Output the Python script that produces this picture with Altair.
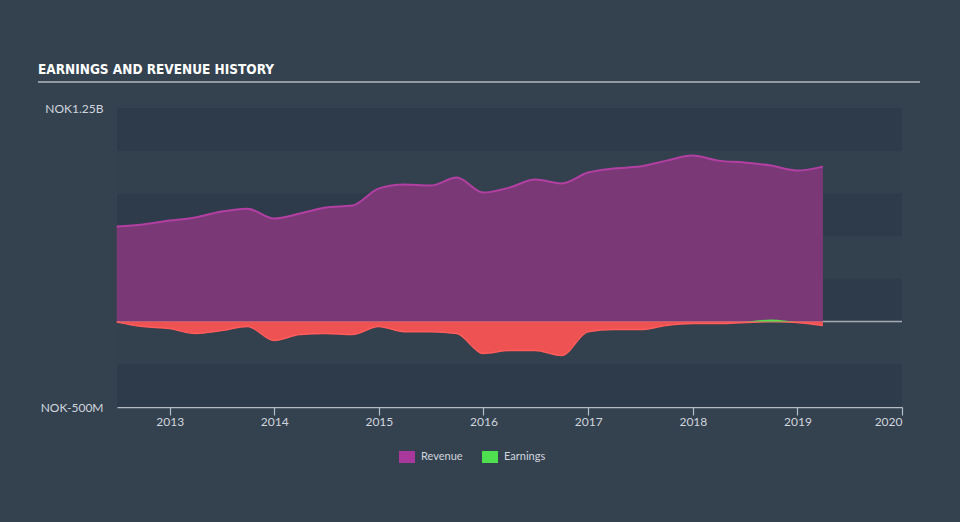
import altair as alt
import pandas as pd

dates = ["2012-06-30", "2012-09-30", "2012-12-31", "2013-03-31", "2013-06-30", "2013-09-30",
         "2013-12-31", "2014-03-31", "2014-06-30", "2014-09-30", "2014-12-31", "2015-03-31",
         "2015-06-30", "2015-09-30", "2015-12-31", "2016-03-31", "2016-06-30", "2016-09-30",
         "2016-12-31", "2017-03-31", "2017-06-30", "2017-09-30", "2017-12-31", "2018-03-31",
         "2018-06-30", "2018-09-30", "2018-12-31", "2019-03-31"]
revenue = [556, 568, 591, 609, 644, 661, 603, 632, 667, 679, 778, 802, 796, 843, 755, 784,
           831, 808, 872, 896, 907, 942, 972, 942, 931, 913, 884, 907]
earnings = [-2, -29, -41, -70, -53, -29, -111, -76, -70, -76, -29, -59, -59, -70, -187, -170,
            -170, -199, -59, -47, -47, -23, -12, -12, -6, 12, -6, -23]

band_lo = [1000, 500, 0, -500]
band_hi = [1250, 750, 250, -250]

series_names = ["Revenue", "Earnings"]
series_colors = ["#a8389c", "#4fe04f"]
title_text = "EARNINGS AND REVENUE HISTORY"

df = pd.DataFrame({
    "date": pd.to_datetime(dates),
    "revenue": [v * 1e6 for v in revenue],
    "earn_neg": [min(v, 0) * 1e6 for v in earnings],
    "earn_pos": [max(v, 0) * 1e6 for v in earnings],
})
bands = pd.DataFrame({"lo": [v * 1e6 for v in band_lo], "hi": [v * 1e6 for v in band_hi]})
legend_df = pd.DataFrame({"series": series_names, "date": pd.to_datetime([dates[0]] * 2), "v": [0, 0]})

W, H = 785, 299
x_scale = alt.Scale(domain=[pd.Timestamp("2012-07-01").isoformat(), pd.Timestamp("2020-01-01").isoformat()])
y_scale = alt.Scale(domain=[-500e6, 1250e6], nice=False)

x_axis = alt.Axis(
    title=None, format="%Y", values=[pd.Timestamp(f"{y}-01-01").isoformat() for y in range(2013, 2021)],
    domainColor="#b4bcc6", domainWidth=1.5, tickColor="#b4bcc6", tickSize=8, tickWidth=1.2,
    labelColor="#d0d6de", labelFontSize=12, labelFont="Lato", labelPadding=1, grid=False,
)
y_axis = alt.Axis(
    title=None, values=[-500e6, 1250e6], domain=False, ticks=False, grid=False,
    labelExpr="datum.value > 0 ? 'NOK1.25B' : 'NOK-500M'",
    labelColor="#d0d6de", labelFontSize=12, labelFont="Lato", labelPadding=14,
)

bands_layer = alt.Chart(bands).mark_rect(color="#2e3b4a").encode(
    x=alt.value(0), x2=alt.value(W),
    y=alt.Y("lo:Q", scale=y_scale, axis=y_axis), y2="hi:Q",
)

zero_rule = alt.Chart(pd.DataFrame({"z": [0]})).mark_rule(color="#a3abb5", strokeWidth=1.5).encode(
    x=alt.value(0), x2=alt.value(W), y=alt.Y("z:Q", scale=y_scale),
)

rev_layer = alt.Chart(df).mark_area(
    interpolate="monotone", color="#7b3877", opacity=1, line={"color": "#b23fa2", "strokeWidth": 2}
).encode(
    x=alt.X("date:T", scale=x_scale, axis=x_axis),
    y=alt.Y("revenue:Q", scale=y_scale),
    y2=alt.datum(0),
)

neg_layer = alt.Chart(df).mark_area(
    interpolate="monotone", color="#ef5252", opacity=1, line={"color": "#ff5c5c", "strokeWidth": 1.5}
).encode(
    x=alt.X("date:T", scale=x_scale),
    y=alt.Y("earn_neg:Q", scale=y_scale),
    y2=alt.datum(0),
)

pos_layer = alt.Chart(df).mark_area(
    interpolate="monotone", color="#4fe04f", opacity=1
).encode(
    x=alt.X("date:T", scale=x_scale),
    y=alt.Y("earn_pos:Q", scale=y_scale),
    y2=alt.datum(0),
)

legend_layer = alt.Chart(legend_df).mark_square(size=0, filled=True, opacity=1).encode(
    x=alt.X("date:T", scale=x_scale),
    y=alt.Y("v:Q", scale=y_scale),
    color=alt.Color(
        "series:N",
        scale=alt.Scale(domain=series_names, range=series_colors),
        legend=alt.Legend(
            title=None, orient="none", legendX=282, legendY=341, direction="horizontal",
            symbolType="M-1,-0.75H1V0.75H-1Z", symbolSize=256, symbolOpacity=1,
            symbolStrokeWidth=0, labelColor="#d0d6de", labelFontSize=11, labelFont="Lato",
            columnPadding=19, labelOffset=6,
        ),
    ),
)

title_layer = alt.Chart(pd.DataFrame({"t": [title_text]})).mark_text(
    align="left", baseline="alphabetic", font="DejaVu Sans Condensed", fontSize=13.5,
    fontWeight="bold", color="#ffffff",
).encode(x=alt.value(-79), y=alt.value(-34), text="t:N")

title_rule = alt.Chart(pd.DataFrame({"a": [0]})).mark_rule(color="#b4b9bf", strokeWidth=1.5).encode(
    x=alt.value(-79), x2=alt.value(803), y=alt.value(-26),
)

chart = alt.layer(
    bands_layer, zero_rule, rev_layer, neg_layer, pos_layer, legend_layer, title_layer, title_rule
).properties(
    width=W, height=H,
    autosize=alt.AutoSizeParams(type="none"),
    padding={"left": 117, "top": 108, "right": 58, "bottom": 115},
    background="#34414f",
).configure_view(stroke=None, fill="#33404e")

chart.save("out.html", embed_options={"renderer": "svg", "actions": False})
